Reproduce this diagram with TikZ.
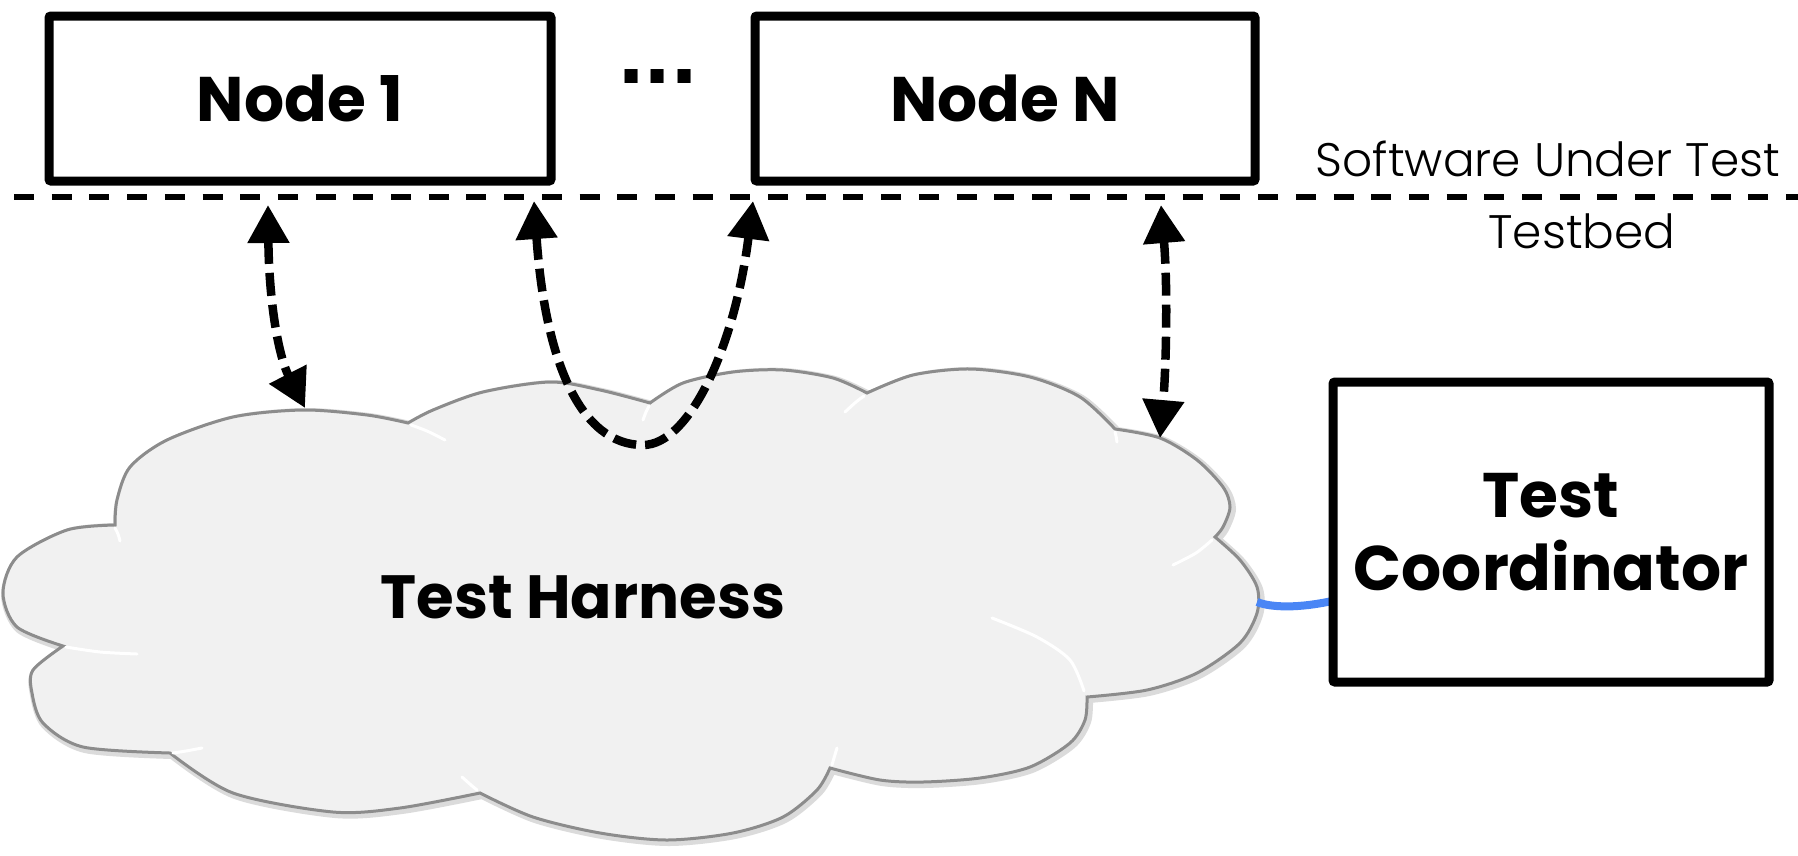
\documentclass[tikz,border=0pt]{standalone}
\usepackage{fontspec}
\setmainfont{Poppins}
\IfFontExistsTF{Poppins Light}{\newfontfamily\lightfont{Poppins Light}}{\newfontfamily\lightfont{Poppins}}
\newfontfamily\dotfont{DejaVu Sans}
\usetikzlibrary{arrows.meta}
\definecolor{cloudgray}{RGB}{241,241,241}
\definecolor{cloudedge}{RGB}{140,140,140}
\definecolor{linkblue}{RGB}{74,134,245}
\tikzset{
  boxnode/.style={draw=black, line width=9pt, rounded corners=2pt, inner sep=0pt, align=center,
    font=\fontsize{63}{73}\selectfont\bfseries},
  boldlabel/.style={inner sep=0pt, font=\fontsize{61}{73}\selectfont\bfseries},
  thinlabel/.style={inner sep=0pt, font=\lightfont\fontsize{47}{56}\selectfont},
  sepline/.style={line width=6pt, dash pattern=on 20pt off 17.7pt},
  dasharrow/.style={line width=8.5pt, dash pattern=on 23pt off 9pt,
    {Triangle[length=38pt,width=40pt]}-{Triangle[length=38pt,width=40pt]}},
  bluelink/.style={draw=linkblue, line width=8pt},
  highlight/.style={draw=white, line width=3pt, line cap=round},
}
\newcommand\cloudpath[1]{%
  \path[#1]
    plot[smooth] coordinates {(115,525) (117,500) (130,467) (167,440) (233,417) (303,410) (367,415) (408,423)}
    -- plot[smooth] coordinates {(408,423) (433,410) (483,392) (550,382) (600,390) (650,403)}
    -- plot[smooth] coordinates {(650,403) (683,383) (733,372) (783,370) (833,378) (867,393)}
    -- plot[smooth] coordinates {(867,393) (913,375) (970,369) (1030,377) (1080,397) (1115,429)}
    -- plot[smooth] coordinates {(1115,429) (1160,438) (1197,460) (1223,487) (1230,507) (1223,527) (1215,537)}
    -- plot[smooth] coordinates {(1215,537) (1240,560) (1257,587) (1257,613) (1240,643) (1197,673) (1147,690) (1087,697)}
    -- plot[smooth] coordinates {(1087,697) (1085,720) (1070,743) (1030,767) (980,778) (923,782) (880,780) (830,768)}
    -- plot[smooth] coordinates {(830,768) (817,790) (783,817) (733,833) (667,840) (600,833) (533,817) (480,793)}
    -- plot[smooth] coordinates {(480,793) (400,808) (333,812) (233,793) (170,753)}
    -- plot[smooth] coordinates {(170,753) (83,747) (43,723) (32,693) (33,670) (63,646)}
    -- plot[smooth] coordinates {(63,646) (17,627) (3,593) (17,557) (67,530) (115,525)}
    -- cycle;}
\begin{document}
\begin{tikzpicture}[x=1pt,y=-1pt]
\useasboundingbox (0,0) rectangle (1798,855);
\fill[white] (0,0) rectangle (1798,855);

% cloud (Test Harness)
\begin{scope}[shift={(2,2)}]
\cloudpath{draw=black!14, line width=8pt}
\end{scope}
\cloudpath{fill=cloudgray, draw=cloudedge, line width=3pt}
\draw[highlight] plot[smooth] coordinates {(115,528) (118,534) (120,541)};
\draw[highlight] plot[smooth] coordinates {(66,647) (100,652) (137,654)};
\draw[highlight] plot[smooth] coordinates {(173,753) (186,751) (202,748)};
\draw[highlight] plot[smooth] coordinates {(462,777) (471,785) (477,790)};
\draw[highlight] plot[smooth] coordinates {(411,425) (427,431) (445,440)};
\draw[highlight] plot[smooth] coordinates {(649,406) (646,412) (643,420)};
\draw[highlight] plot[smooth] coordinates {(864,396) (856,402) (845,412)};
\draw[highlight] plot[smooth] coordinates {(837,748) (834,758) (832,765)};
\draw[highlight] plot[smooth] coordinates {(1115,432) (1116,436) (1117,442)};
\draw[highlight] plot[smooth] coordinates {(1212,540) (1196,553) (1173,565)};
\draw[highlight] plot[smooth] coordinates {(992,618) (1037,637) (1070,660) (1084,691)};
\node[boldlabel] (harness) at (583,597) {Test Harness};

% link to the coordinator
\coordinate (blueout) at (1257,602);
\coordinate (bluein) at (1332,601);
\draw[bluelink] (blueout) .. controls (1272,608) and (1300,608) .. (bluein);

% boxes
\node[boxnode, minimum width=502pt, minimum height=165pt] (node1) at (300,98.5) {Node 1};
\node[boxnode, minimum width=500pt, minimum height=165pt] (nodeN) at (1005,98.5) {Node N};
\node[boxnode, minimum width=436pt, minimum height=300pt] (coord) at (1551,532) {Test\\Coordinator};
\node[anchor=base west, inner sep=0pt, font=\dotfont\bfseries\fontsize{74}{74}\selectfont] (dots) at (617,83) {.\kern-1.5pt.\kern-1.5pt.};

% separation line and labels
\coordinate (sepL) at (14,197);
\coordinate (sepR) at (1798,197);
\draw[sepline] (sepL) -- (sepR);
\node[thinlabel] (sut) at (1548,159) {Software Under Test};
\node[thinlabel] (testbed) at (1582,231) {Testbed};

% dashed double arrows
\coordinate (a1t) at (268,205);
\coordinate (a1b) at (305,408);
\draw[dasharrow] (a1t) .. controls (269,300) and (278,355) .. (a1b);
\coordinate (a2l) at (534,201);
\coordinate (a2m) at (643,445);
\coordinate (a2r) at (753,201);
\draw[dasharrow] (a2l) .. controls (545,360) and (580,445) .. (a2m) .. controls (690,445) and (735,345) .. (a2r);
\coordinate (a3t) at (1161,205);
\coordinate (a3b) at (1160,438);
\draw[dasharrow] (a3t) .. controls (1168,290) and (1166,370) .. (a3b);
\end{tikzpicture}
\end{document}
